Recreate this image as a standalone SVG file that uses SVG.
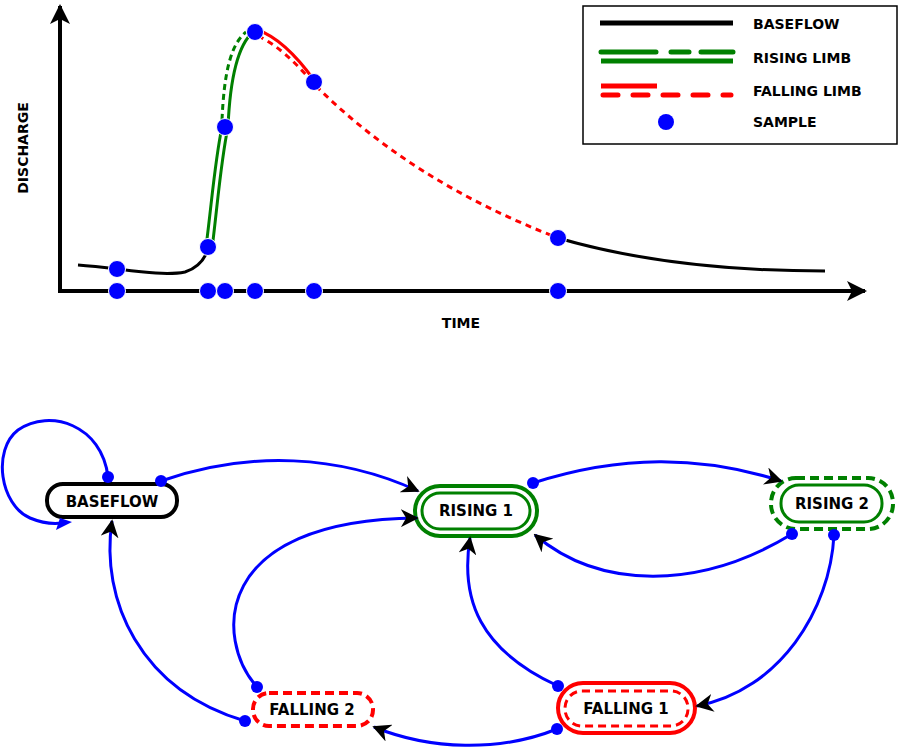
<svg xmlns="http://www.w3.org/2000/svg" width="901" height="749" viewBox="0 0 901 749">
<style>
text{font-family:"DejaVu Sans","Liberation Sans",sans-serif;font-weight:bold;fill:#000}
.lbl{font-size:15px;text-anchor:middle}
.lg{font-size:14px}
.e{fill:none;stroke:#0000ff;stroke-width:3;marker-end:url(#ar)}
.d{fill:#0000ff}
.s{fill:#0000ff;stroke:#fff;stroke-width:1}
</style>
<defs>
<marker id="ar" viewBox="0 0 10 10" refX="9" refY="5" markerWidth="6" markerHeight="6" markerUnits="strokeWidth" orient="auto"><path d="M0,0 L10,5 L0,10 L3,5 Z" fill="#000"/></marker>
<marker id="ax" viewBox="0 0 10 10" refX="9" refY="5" markerWidth="5" markerHeight="5" markerUnits="strokeWidth" orient="auto"><path d="M0,0 L10,5 L0,10 L2.5,5 Z" fill="#000"/></marker>
</defs>
<rect width="901" height="749" fill="#fff"/>
<g id="chart">
<path d="M60,292 V6" stroke="#000" stroke-width="4" fill="none" marker-end="url(#ax)"/>
<path d="M58,291 H865" stroke="#000" stroke-width="4" fill="none" marker-end="url(#ax)"/>
<path d="M78,265 C120,268 160,277 185,272 C198,268 204,260 208,250" stroke="#000" stroke-width="3" fill="none"/>
<path d="M558,238 C640,262 730,271 825,271" stroke="#000" stroke-width="3" fill="none"/>
<path d="M206,247 C212,200 215,160 222,127" stroke="#008000" stroke-width="3" fill="none"/>
<path d="M212,249 C218,200 221,160 228,127" stroke="#008000" stroke-width="3" fill="none"/>
<path d="M228,127 C230,80 238,45 253,32" stroke="#008000" stroke-width="3" fill="none"/>
<path d="M222,120 C224,75 230,45 246,32" stroke="#008000" stroke-width="3" fill="none" stroke-dasharray="6,4"/>
<path d="M258,30 C280,38 298,58 314,80" stroke="#ff0000" stroke-width="3" fill="none"/>
<path d="M258,36 C278,45 298,65 314,84 C380,150 460,200 558,238" stroke="#ff0000" stroke-width="3" fill="none" stroke-dasharray="6,5"/>
<circle class="s" cx="117" cy="269" r="8.5"/><circle class="s" cx="208" cy="247" r="8.5"/><circle class="s" cx="225" cy="127" r="8.5"/>
<circle class="s" cx="255" cy="32" r="8.5"/><circle class="s" cx="314" cy="82" r="8.5"/><circle class="s" cx="558" cy="238" r="8.5"/>
<circle class="s" cx="117" cy="291" r="8.5"/><circle class="s" cx="208" cy="291" r="8.5"/><circle class="s" cx="225" cy="291" r="8.5"/>
<circle class="s" cx="255" cy="291" r="8.5"/><circle class="s" cx="314" cy="291" r="8.5"/><circle class="s" cx="558" cy="291" r="8.5"/>
<text class="lg" transform="translate(28,148) rotate(-90)" text-anchor="middle">DISCHARGE</text>
<text class="lg" x="461" y="328" text-anchor="middle">TIME</text>
</g>
<g id="legend">
<rect x="583" y="6" width="314" height="138" fill="#fff" stroke="#000" stroke-width="1.5"/>
<line x1="600" y1="23" x2="733" y2="23" stroke="#000" stroke-width="5"/>
<line x1="601" y1="52" x2="733" y2="52" stroke="#008000" stroke-width="5" stroke-dasharray="55,15,18,12" stroke-linecap="round"/>
<line x1="601" y1="61" x2="733" y2="61" stroke="#008000" stroke-width="5"/>
<line x1="601" y1="86" x2="657" y2="86" stroke="#ff0000" stroke-width="5"/>
<line x1="603" y1="95" x2="731" y2="95" stroke="#ff0000" stroke-width="5" stroke-dasharray="15,15" stroke-linecap="round"/>
<circle class="d" cx="666" cy="122" r="8"/>
<text class="lg" x="753" y="29">BASEFLOW</text>
<text class="lg" x="753" y="63">RISING LIMB</text>
<text class="lg" x="753" y="96">FALLING LIMB</text>
<text class="lg" x="753" y="127">SAMPLE</text>
</g>
<g id="baseflow">
<rect x="47" y="484" width="130" height="33" rx="16" fill="#fff" stroke="#000" stroke-width="4"/>
<text class="lbl" x="112" y="507">BASEFLOW</text>
</g>
<g id="rising1">
<rect x="415" y="486" width="122" height="50" rx="25" fill="#fff" stroke="#008000" stroke-width="4"/>
<rect x="422" y="493" width="108" height="36" rx="18" fill="#fff" stroke="#008000" stroke-width="3"/>
<text class="lbl" x="476" y="516">RISING 1</text>
</g>
<g id="rising2">
<rect x="771" y="478" width="122" height="51" rx="25" fill="#fff" stroke="#008000" stroke-width="4" stroke-dasharray="9,5"/>
<rect x="781" y="485" width="101" height="37" rx="18" fill="#fff" stroke="#008000" stroke-width="3"/>
<text class="lbl" x="832" y="509">RISING 2</text>
</g>
<g id="falling1">
<rect x="558" y="683" width="137" height="50" rx="25" fill="#fff" stroke="#ff0000" stroke-width="4"/>
<rect x="565" y="691" width="123" height="35" rx="17" fill="#fff" stroke="#ff0000" stroke-width="3" stroke-dasharray="8,5"/>
<text class="lbl" x="626" y="714">FALLING 1</text>
</g>
<g id="falling2">
<rect x="253" y="693" width="120" height="33" rx="16" fill="#fff" stroke="#ff0000" stroke-width="4" stroke-dasharray="9,5"/>
<text class="lbl" x="312" y="715">FALLING 2</text>
</g>
<g id="connectors">
<path class="e" style="marker-end:none" d="M108,477 C102,425 50,408 18,430 C-8,450 0,505 30,518 C42,523 54,524 62,523"/>
<path d="M56,530 L72,522 L60,518 Z" fill="#0000ff"/>
<path class="e" d="M161,481 C250,450 340,455 418,491"/>
<path class="e" d="M533,483 C620,455 700,455 781,481"/>
<path class="e" d="M792,534 C700,590 600,590 535,535"/>
<path class="e" d="M834,535 C830,610 780,690 697,706"/>
<path class="e" d="M558,686 C480,650 460,600 470,538"/>
<path class="e" d="M557,729 C500,752 430,750 374,727"/>
<path class="e" d="M245,721 C140,690 100,600 112,521"/>
<path class="e" d="M257,687 C215,640 210,520 417,518"/>
<circle class="d" cx="108" cy="477" r="6"/><circle class="d" cx="161" cy="481" r="6"/>
<circle class="d" cx="533" cy="483" r="6"/><circle class="d" cx="792" cy="534" r="6"/>
<circle class="d" cx="834" cy="535" r="6"/><circle class="d" cx="558" cy="686" r="6"/>
<circle class="d" cx="557" cy="729" r="6"/><circle class="d" cx="245" cy="721" r="6"/>
<circle class="d" cx="257" cy="687" r="6"/>
</g>
</svg>
